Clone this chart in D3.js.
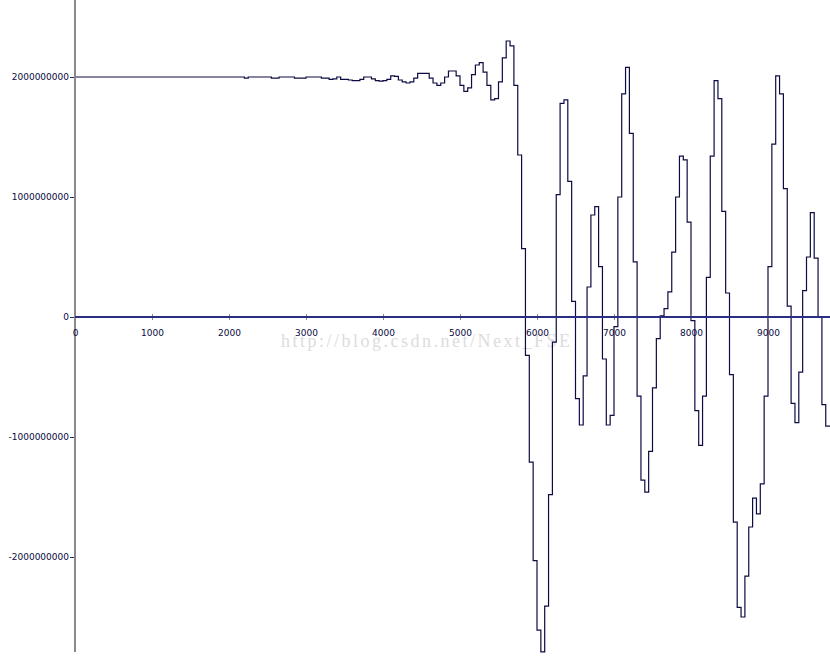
<!DOCTYPE html>
<html><head><meta charset="utf-8">
<script src="https://cdn.jsdelivr.net/npm/d3@7"></script>
<style>html,body{margin:0;padding:0;background:#fff;overflow:hidden}svg{display:block}</style>
</head><body>
<svg id="chart" width="830" height="662"></svg>
<script>
// sample spacing along x (one step per sample)
const STEP = 50;
const valuesBn = [
  2.00,2.00,2.00,2.00,2.00,2.00,2.00,2.00,2.00,2.00,
  2.00,2.00,2.00,2.00,2.00,2.00,2.00,2.00,2.00,2.00,
  2.00,2.00,2.00,2.00,2.00,2.00,2.00,2.00,2.00,2.00,
  2.00,2.00,2.00,2.00,2.00,2.00,2.00,2.00,2.00,2.00,
  2.00,2.00,2.00,2.00,
  1.99,2.00,2.00,2.00,2.00,2.00,2.00,1.99,1.99,2.00,
  2.00,2.00,2.00,1.99,1.99,1.99,2.00,2.00,2.00,2.00,
  1.99,1.99,
  1.98,1.985,2.00,1.98,1.98,1.975,1.97,1.97,1.98,2.00,
  2.00,1.985,1.97,1.965,1.97,1.98,2.01,2.005,1.975,1.96,
  1.95,1.96,1.99,2.03,2.03,2.03,1.99,1.95,1.93,1.95,
  2.00,2.05,2.05,2.01,1.93,1.88,1.91,2.02,2.10,2.12,
  2.04,1.93,1.81,1.82,1.96,2.16,2.30,2.26,1.93,1.35,
  0.57,-0.32,-1.21,-2.03,-2.61,-2.79,-2.41,-1.48,-0.21,1.02,
  1.78,1.81,1.13,0.13,-0.68,-0.90,-0.49,0.25,0.85,0.92,
  0.42,-0.35,-0.90,-0.82,-0.08,1.00,1.86,2.08,1.53,0.46,
  -0.66,-1.36,-1.46,-1.12,-0.59,-0.18,0.01,0.07,0.21,0.54,
  1.00,1.34,1.31,0.79,-0.03,-0.78,-1.07,-0.66,0.33,1.34,
  1.97,1.82,0.88,0.20,-0.48,-1.71,-2.42,-2.50,-2.16,-1.75,
  -1.51,-1.64,-1.39,-0.66,0.42,1.44,2.01,1.86,1.07,0.09,
  -0.72,-0.88,-0.46,0.22,0.50,0.87,0.49,0.00,-0.73,-0.91
];
const UNIT = 1e9;
const xTickValues = [0,1000,2000,3000,4000,5000,6000,7000,8000,9000];
const yTickValues = [2000000000,1000000000,0,-1000000000,-2000000000];
const watermarkText = "http://blog.csdn.net/Next_FSE";

const svg = d3.select("#chart");
const W = 830, H = 662;

const x = d3.scaleLinear().domain([0, 10000]).range([75, 845]);
const y = d3.scaleLinear().domain([-2.8e9, 2.6e9]).range([653, 5]);

// watermark
svg.append("text")
  .attr("x", 281).attr("y", 347)
  .attr("textLength", 289).attr("lengthAdjust", "spacing")
  .attr("font-family", "'Liberation Serif','DejaVu Serif',serif")
  .attr("font-size", 18)
  .attr("fill", "#dcdcdc")
  .text(watermarkText);

// data as points
const pts = valuesBn.map((v, i) => [i * STEP, v * UNIT]);
// extend the last step to the clipped right edge
pts.push([valuesBn.length * STEP + STEP, valuesBn[valuesBn.length - 1] * UNIT]);

const line = d3.line()
  .x(d => x(d[0]))
  .y(d => y(d[1]))
  .curve(d3.curveStepAfter);

svg.append("path")
  .datum(pts)
  .attr("d", line)
  .attr("fill", "none")
  .attr("stroke", "#0c0c42")
  .attr("stroke-width", 1.2);

// y axis (vertical gray line)
svg.append("line")
  .attr("x1", x(0)).attr("x2", x(0))
  .attr("y1", 0).attr("y2", 652)
  .attr("stroke", "#8a8a8a").attr("stroke-width", 2);

// y ticks and labels
const yAxis = d3.axisLeft(y)
  .tickValues(yTickValues)
  .tickSize(4)
  .tickPadding(1)
  .tickFormat(d => d.toFixed(0));
const gy = svg.append("g").attr("transform", `translate(${x(0) - 1},0)`).call(yAxis);
gy.select(".domain").remove();
gy.selectAll(".tick line").attr("stroke", "#2a2a5e");
gy.selectAll(".tick text")
  .attr("font-family", "'DejaVu Sans',sans-serif")
  .attr("font-size", 9)
  .attr("fill", "#0a0a40");

// x axis (zero line)
const xAxis = d3.axisBottom(x)
  .tickValues(xTickValues)
  .tickSize(3)
  .tickFormat(d => String(d));
const gx = svg.append("g").attr("transform", `translate(0,${y(0)})`).call(xAxis);
gx.select(".domain").remove();
gx.selectAll(".tick line").attr("y1", -3).attr("y2", 3).attr("stroke", "#8a8a8a");
gx.selectAll(".tick text")
  .attr("y", 13).attr("dy", "0.71em")
  .attr("font-family", "'DejaVu Sans',sans-serif")
  .attr("font-size", 9)
  .attr("fill", "#0a0a40");

svg.append("line")
  .attr("x1", x(0)).attr("x2", W)
  .attr("y1", y(0)).attr("y2", y(0))
  .attr("stroke", "#2c2c80").attr("stroke-width", 2);
</script>
</body></html>
